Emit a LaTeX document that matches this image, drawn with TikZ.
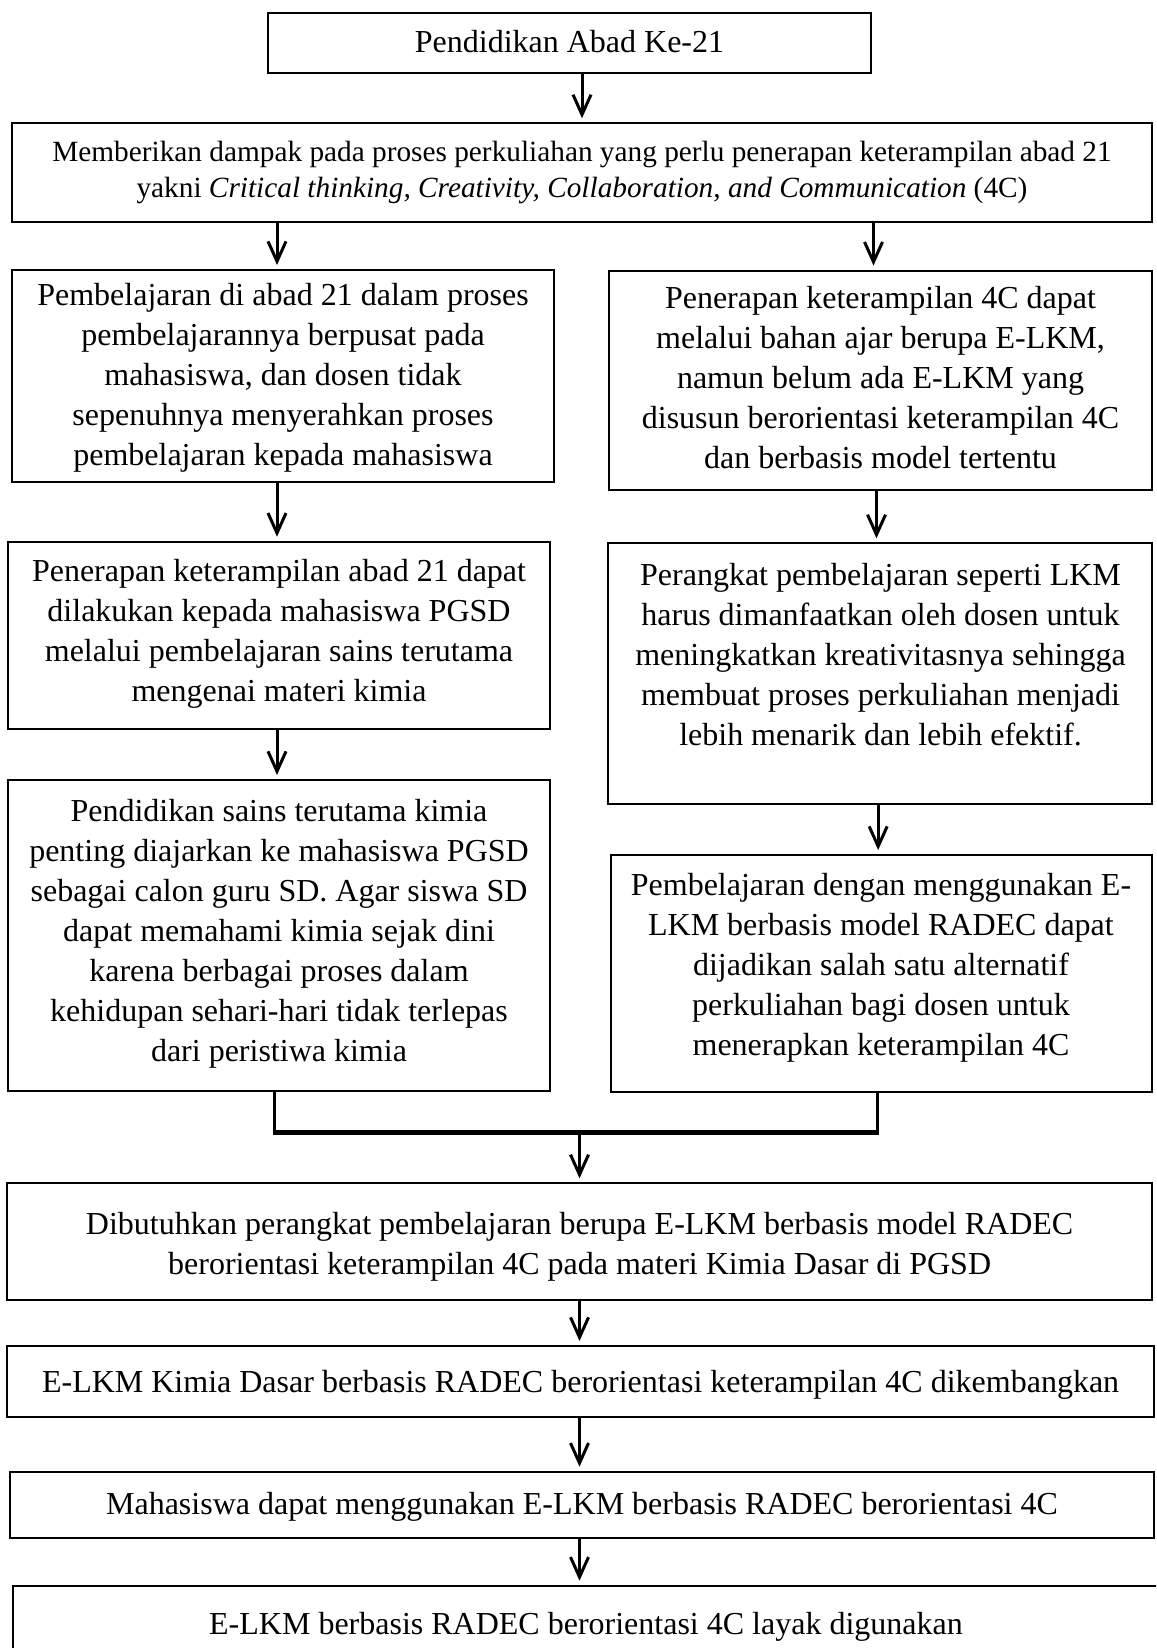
\documentclass[tikz,border=0pt]{standalone}
\usepackage{fontspec}
\setmainfont{Liberation Serif}
\usetikzlibrary{arrows.meta}
\frenchspacing
\begin{document}
\begin{tikzpicture}[x=1pt,y=-1pt,
  box/.style={draw=black, line width=2pt, inner sep=0pt, outer sep=0pt},
  txt/.style={align=center, inner sep=0pt, outer sep=0pt,
    font=\fontsize{32}{40}\selectfont,
    execute at begin node=\strut, execute at end node=\strut},
  txtsmall/.style={txt, font=\fontsize{29.3}{36}\selectfont},
  arr/.style={line width=3pt, shorten >=5pt,
    -{Straight Barb[length=20pt,width=18pt]}},
  conn/.style={line width=3pt, line join=miter},
  mergebar/.style={line width=4.5pt}]
\useasboundingbox (0,0) rectangle (1156,1648);
\fill[white] (0,0) rectangle (1156,1648);
\clip (0,0) rectangle (1156,1648);

% boxes
\node[box, minimum width=603pt, minimum height=60.6pt] (b1) at (569.5,43) {};
\node[box, minimum width=1140pt, minimum height=98.4pt] (b2) at (582,172.5) {};
\node[box, minimum width=542pt, minimum height=211.7pt] (L1) at (283,375.85) {};
\node[box, minimum width=543pt, minimum height=219.4pt] (R1) at (880.5,380.3) {};
\node[box, minimum width=542pt, minimum height=187.3pt] (L2) at (279,635.35) {};
\node[box, minimum width=543.7pt, minimum height=260.7pt] (R2) at (880.15,673.65) {};
\node[box, minimum width=542pt, minimum height=311pt] (L3) at (279,935.5) {};
\node[box, minimum width=541.3pt, minimum height=237pt] (R3) at (881.35,973.5) {};
\node[box, minimum width=1144.7pt, minimum height=116.7pt] (M1) at (579.65,1241.65) {};
\node[box, minimum width=1146.7pt, minimum height=70.7pt] (M2) at (580.65,1381.35) {};
\node[box, minimum width=1144pt, minimum height=66pt] (M3) at (582,1504.7) {};
\node[box, minimum width=1149.3pt, minimum height=114.3pt] (M4) at (587.35,1642.85) {};

% texts
\node[txt] (t1) at (569.5,45) {Pendidikan Abad Ke-21};
\node[txtsmall] (t2) at (582,175) {Memberikan dampak pada proses perkuliahan yang perlu penerapan keterampilan abad 21\\yakni \textit{Critical thinking, Creativity, Collaboration, and Communication} (4C)};
\begin{scope}
  \clip (L1.north west) rectangle ([yshift=10pt]L1.south east);
  \node[txt] (tL1) at (283,380) {Pembelajaran di abad 21 dalam proses\\pembelajarannya berpusat pada\\mahasiswa, dan dosen tidak\\sepenuhnya menyerahkan proses\\pembelajaran kepada mahasiswa};
\end{scope}
\node[txt] (tR1) at (880.5,383) {Penerapan keterampilan 4C dapat\\melalui bahan ajar berupa E-LKM,\\namun belum ada E-LKM yang\\disusun berorientasi keterampilan 4C\\dan berbasis model tertentu};
\node[txt] (tL2) at (279,636) {Penerapan keterampilan abad 21 dapat\\dilakukan kepada mahasiswa PGSD\\melalui pembelajaran sains terutama\\mengenai materi kimia};
\node[txt] (tR2) at (880.5,660) {Perangkat pembelajaran seperti LKM\\harus dimanfaatkan oleh dosen untuk\\meningkatkan kreativitasnya sehingga\\membuat proses perkuliahan menjadi\\lebih menarik dan lebih efektif.};
\node[txt] (tL3) at (279,936) {Pendidikan sains terutama kimia\\penting diajarkan ke mahasiswa PGSD\\sebagai calon guru SD. Agar siswa SD\\dapat memahami kimia sejak dini\\karena berbagai proses dalam\\kehidupan sehari-hari tidak terlepas\\dari peristiwa kimia};
\node[txt] (tR3) at (881,970) {Pembelajaran dengan menggunakan E-\\LKM berbasis model RADEC dapat\\dijadikan salah satu alternatif\\perkuliahan bagi dosen untuk\\menerapkan keterampilan 4C};
\node[txt] (tM1) at (579.6,1249) {Dibutuhkan perangkat pembelajaran berupa E-LKM berbasis model RADEC\\berorientasi keterampilan 4C pada materi Kimia Dasar di PGSD};
\node[txt] (tM2) at (580.6,1384) {E-LKM Kimia Dasar berbasis RADEC berorientasi keterampilan 4C dikembangkan};
\node[txt] (tM3) at (582,1506) {Mahasiswa dapat menggunakan E-LKM berbasis RADEC berorientasi 4C};
\node[txt] (tM4) at (586,1626) {E-LKM berbasis RADEC berorientasi 4C layak digunakan};

% connectors
\draw[arr] (b2.north |- b1.south) -- (b2.north);
\draw[arr] ([xshift=-6pt]L1.north |- b2.south) -- ([xshift=-6pt]L1.north);
\draw[arr] ([xshift=-7pt]R1.north |- b2.south) -- ([xshift=-7pt]R1.north);
\draw[arr] ([xshift=-6pt]L1.south) -- ([xshift=-6pt]L1.south |- L2.north);
\draw[arr] ([xshift=-4pt]R1.south) -- ([xshift=-4pt]R1.south |- R2.north);
\draw[arr] ([xshift=-2pt]L2.south) -- ([xshift=-2pt]L2.south |- L3.north);
\draw[arr] ([xshift=-2pt]R2.south) -- ([xshift=-2pt]R2.south |- R3.north);

\coordinate (jl) at (274,1132.7);
\coordinate (jr) at (877.3,1132.7);
\coordinate (jm) at (579.5,1132.7);
\draw[conn] (L3.south -| jl) -- (jl) -- (jr) -- (R3.south -| jr);
\draw[mergebar] ([xshift=-1.5pt]jl) -- ([xshift=1.5pt]jr);
\draw[arr] (jm) -- (M1.north -| jm);
\draw[arr] (M1.south -| jm) -- (M2.north -| jm);
\draw[arr] (M2.south -| jm) -- (M3.north -| jm);
\draw[arr] (M3.south -| jm) -- (M4.north -| jm);
\end{tikzpicture}
\end{document}
